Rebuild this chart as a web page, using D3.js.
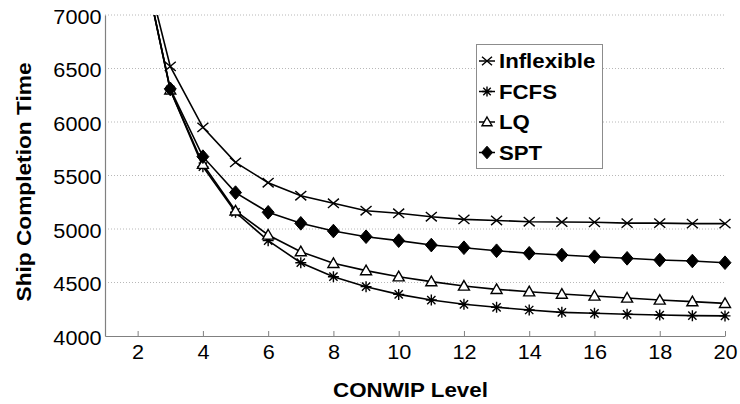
<!DOCTYPE html>
<html><head><meta charset="utf-8">
<script src="https://cdn.jsdelivr.net/npm/d3@7"></script>
<style>body{margin:0;background:#fff}svg{display:block}</style>
</head><body><svg id="c" width="740" height="404"></svg>
<script>
const levels = [2,3,4,5,6,7,8,9,10,11,12,13,14,15,16,17,18,19,20];
const inflexible = [7730,6520,5950,5623,5433,5311,5240,5171,5147,5115,5090,5080,5068,5065,5063,5055,5055,5050,5050];
const fcfs = [7730,6300,5582,5156,4891,4685,4554,4461,4389,4336,4296,4268,4243,4221,4212,4203,4196,4190,4188];
const lq = [7730,6300,5605,5170,4944,4788,4679,4611,4554,4508,4467,4436,4414,4392,4374,4355,4336,4321,4305];
const spt = [7730,6310,5676,5340,5156,5053,4981,4928,4891,4850,4825,4797,4773,4757,4741,4726,4710,4701,4685];
const seriesNames = ["Inflexible","FCFS","LQ","SPT"];
const seriesMarkers = ["x","star","tri","dia"];
const xTicks = [2,4,6,8,10,12,14,16,18,20];
const yTicks = [4000,4500,5000,5500,6000,6500,7000];

const series = [inflexible, fcfs, lq, spt].map((vals, i) => ({
  name: seriesNames[i], marker: seriesMarkers[i],
  pts: levels.map((l, j) => ({x: l, y: vals[j]}))
}));

const svg = d3.select("#c");
const L = 105, R = 725, T = 15, B = 336;
const x = d3.scaleLinear().domain([1, 20]).range([L, R]);
const y = d3.scaleLinear().domain([4000, 7000]).range([B, T]);
const font = "'Liberation Sans', Arial, Helvetica, sans-serif";

function stretch(sel, k) {
  sel.each(function () {
    const w = this.getComputedTextLength();
    this.setAttribute("textLength", (w * k).toFixed(2));
    this.setAttribute("lengthAdjust", "spacingAndGlyphs");
  });
}

// grid
svg.append("g").selectAll("line").data(yTicks.filter(v => v > 4000)).join("line")
  .attr("x1", L).attr("x2", R).attr("y1", d => y(d)).attr("y2", d => y(d))
  .attr("stroke", "#b8b8b8").attr("stroke-width", 1).attr("stroke-dasharray", "1,2");

// axes
const xa = svg.append("g").attr("transform", `translate(0,${B})`)
  .call(d3.axisBottom(x).tickValues(xTicks).tickFormat(d3.format("d")).tickSizeInner(-5).tickSizeOuter(0).tickPadding(9));
const ya = svg.append("g").attr("transform", `translate(${L},0)`)
  .call(d3.axisLeft(y).tickValues(yTicks).tickFormat(d3.format("d")).tickSizeInner(0).tickSizeOuter(0).tickPadding(3.5));
[xa, ya].forEach(a => {
  a.select(".domain").attr("stroke", "#808080").attr("stroke-width", 1.2);
  a.selectAll(".tick line").attr("stroke", "#808080").attr("stroke-width", 1);
  a.selectAll("text").attr("font-family", font).attr("font-size", 19.5).attr("fill", "#000");
});
ya.selectAll("text").attr("dy", "0.42em");
stretch(xa.selectAll("text"), 1.11);
stretch(ya.selectAll("text"), 1.11);

// clip
svg.append("clipPath").attr("id", "clip").append("rect")
  .attr("x", L).attr("y", T).attr("width", R - L + 8).attr("height", B - T);

const plot = svg.append("g").attr("clip-path", "url(#clip)");
const line = d3.line().x(d => x(d.x)).y(d => y(d.y));

function drawMarker(g, type, cx, cy, s) {
  const h = s / 2;
  if (type === "x") {
    g.append("path").attr("d", `M${cx-h},${cy-h*0.85}L${cx+h},${cy+h*0.85}M${cx-h},${cy+h*0.85}L${cx+h},${cy-h*0.85}`)
      .attr("stroke", "#000").attr("stroke-width", 1.4).attr("fill", "none");
  } else if (type === "star") {
    g.append("path").attr("d", `M${cx},${cy-h}L${cx},${cy+h}M${cx-h},${cy}L${cx+h},${cy}M${cx-h*0.75},${cy-h*0.75}L${cx+h*0.75},${cy+h*0.75}M${cx-h*0.75},${cy+h*0.75}L${cx+h*0.75},${cy-h*0.75}`)
      .attr("stroke", "#000").attr("stroke-width", 1.4).attr("fill", "none");
  } else if (type === "tri") {
    g.append("path").attr("d", `M${cx},${cy-h}L${cx+h},${cy+h*0.75}L${cx-h},${cy+h*0.75}Z`)
      .attr("stroke", "#000").attr("stroke-width", 1.4).attr("fill", "#fff");
  } else {
    g.append("path").attr("d", `M${cx},${cy-h*1.05}L${cx+h*0.92},${cy}L${cx},${cy+h*1.05}L${cx-h*0.92},${cy}Z`)
      .attr("stroke", "#000").attr("stroke-width", 1).attr("fill", "#000");
  }
}

series.forEach(s => {
  const g = plot.append("g");
  g.append("path").datum(s.pts).attr("d", line).attr("fill", "none").attr("stroke", "#000").attr("stroke-width", 1.6);
  s.pts.forEach(p => drawMarker(g, s.marker, x(p.x), y(p.y), s.marker === "dia" ? 13 : 11));
});

// legend
const lg = svg.append("g");
lg.append("rect").attr("x", 476.5).attr("y", 44.5).attr("width", 126).attr("height", 124)
  .attr("fill", "#fff").attr("stroke", "#8c8c8c").attr("stroke-width", 1);
series.forEach((s, i) => {
  const cy = 61 + i * 30.5;
  const g = lg.append("g");
  g.append("line").attr("x1", 479).attr("x2", 495).attr("y1", cy).attr("y2", cy).attr("stroke", "#000").attr("stroke-width", 1.5);
  drawMarker(g, s.marker, 487, cy, s.marker === "dia" ? 12 : 10);
  const t = g.append("text").attr("x", 499).attr("y", cy).attr("dy", "0.36em")
    .attr("font-family", font).attr("font-weight", "bold").attr("font-size", 20).text(s.name);
  stretch(t, 1.11);
});

// titles
const xt = svg.append("text").attr("x", 410.5).attr("y", 397).attr("text-anchor", "middle")
  .attr("font-family", font).attr("font-weight", "bold").attr("font-size", 20.5).text("CONWIP Level");
stretch(xt, 1.09);
const yt = svg.append("text").attr("transform", `translate(31,182) rotate(-90)`).attr("text-anchor", "middle")
  .attr("font-family", font).attr("font-weight", "bold").attr("font-size", 21).text("Ship Completion Time");
stretch(yt, 1.08);
</script></body></html>
